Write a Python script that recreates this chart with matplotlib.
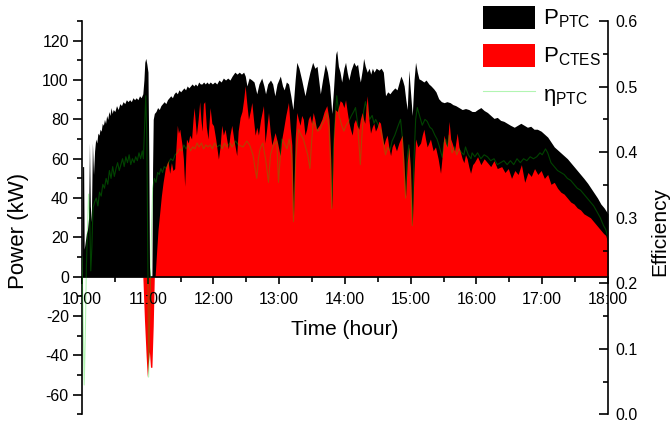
import matplotlib
matplotlib.use('Agg')
import matplotlib.pyplot as plt
from matplotlib.patches import Patch
from matplotlib.lines import Line2D
from matplotlib.ticker import MultipleLocator
import numpy as np

plt.rcParams['font.family'] = ['Liberation Sans', 'DejaVu Sans']
plt.rcParams['mathtext.fontset'] = 'custom'
plt.rcParams['mathtext.rm'] = 'Liberation Sans'
plt.rcParams['mathtext.it'] = 'Liberation Sans:italic'
plt.rcParams['axes.unicode_minus'] = False

# minutes after 10:00 and PTC power (kW)
ptc_min = [0, 0.5, 1.5, 2.0, 3, 4, 5, 6, 6.8, 7.6, 8.5, 9.5, 10.5, 11.5, 12.5, 13.5, 14.5, 15.5,
           16.5, 17.5, 18.5, 19.5, 20.5, 21.5, 22.5, 23.5, 24.5, 25.5, 26.5, 27.5, 28.5, 30, 31.5,
           33, 34.5, 36, 37.5, 39, 40.5, 42, 43.5, 45, 46.5, 48, 49.5, 51, 52.5, 54, 55.5, 56.5,
           57.3, 58.2, 59.2, 60.2, 61.0, 61.6, 62.2, 63.8, 64.4, 65.0, 66, 67.5, 69, 70.5, 72, 73.5,
           75, 76.5, 78, 79.5, 81, 82.5, 84, 85.5, 87, 88.5, 90, 91.5, 93, 94.5, 96, 97.5, 99,
           100.5, 102, 103.5, 105, 106.5, 108, 109.5, 111, 112.5, 114, 115.5, 117, 119, 121, 123,
           125, 127, 129, 131, 133, 135, 137, 139.5, 141.5, 143.5, 145.5, 147.5, 149, 150.5, 152.5,
           155, 157, 159.5, 161.5, 164, 166, 167.5, 169.5, 172, 174, 176, 178, 181, 183, 184.5,
           186.5, 188.5, 190.5, 192.5, 194.5, 196, 198, 200.5, 202, 203.5, 206, 208, 210.5, 212.5,
           214.5, 216, 217.5, 219.5, 222, 224, 226, 228, 229.5, 231.5, 232.5, 234, 235.5, 237, 239,
           240.5, 242, 243.5, 245.5, 248, 250, 251.5, 253, 254, 256, 257, 258.5, 260.3, 262, 263.5,
           265, 266.5, 268.5, 271, 273, 275, 277, 279, 281, 283, 285.5, 287.5, 289.5, 291, 292.5,
           294, 295.5, 296.8, 298.3, 299.5, 301.4, 303, 304.4, 306, 307.5, 309.5, 312, 314, 316.5,
           318.5, 321, 323, 325.5, 328, 330.5, 333, 336, 338.5, 341, 344, 347, 350, 353, 356, 358.5,
           361, 364, 367, 370, 373, 376, 379, 382, 385, 388, 391, 394.5, 397.5, 400.5, 403.5, 406.5,
           409.5, 412.5, 415.5, 419, 422, 425, 428, 431, 434, 437, 440, 443, 446, 449, 452, 455, 458,
           461.5, 464.5, 467.5, 470.5, 473.5, 476.5, 480]
ptc_kw = [0, 56, 56, 14, 18, 22, 24, 30, 68, 36, 28, 68, 52, 64, 70, 68, 73, 72,
          75, 74, 78, 77, 80, 78, 82, 80, 84, 82, 86, 83, 85, 84, 87,
          85, 88, 87, 89, 88, 90, 89, 90, 89, 91, 90, 91, 90, 92, 91, 93, 100,
          109, 111, 108, 104, 60, 5, 0, 0, 55, 80, 83, 84, 86, 85, 87, 88,
          89, 88, 90, 91, 92, 91, 93, 94, 93, 95, 94, 95, 96, 95, 97, 96, 97,
          98, 97, 98, 97, 99, 98, 98, 99, 98, 99, 98, 99, 98, 99, 98,
          100, 99, 101, 100, 101, 100, 102, 104, 103, 104, 103, 104, 102, 97, 101,
          100, 99, 93, 98, 101, 97, 93, 98, 100, 98, 92, 98, 102, 97, 95,
          99, 98, 92, 85, 100, 109, 106, 100, 96, 92, 99, 104, 109, 106,
          107, 100, 93, 100, 108, 104, 97, 83, 95, 113, 115, 107, 104, 99, 106,
          109, 104, 100, 105, 109, 107, 108, 102, 99, 106, 111, 107, 104, 106, 103,
          106, 104, 106, 105, 106, 104, 92, 94, 93, 94.5, 96, 95, 99, 102, 100,
          97, 90, 85, 105, 96, 82, 100, 109, 104, 100.6, 100, 99, 100, 98,
          97, 95.5, 94, 90.5, 89, 88.5, 89, 88.5, 87.5, 87, 86, 85, 85.5, 85, 84, 84,
          85, 86, 84.5, 83.5, 82, 80.5, 81, 79.5, 79, 78, 77, 76, 77, 78, 77, 76,
          76.5, 75, 75, 74, 72.5, 71, 68.5, 66, 64.5, 63, 61.5, 60, 58, 56, 54, 52, 50,
          47.5, 45, 42.5, 40, 37, 35, 32]

# minutes after 10:00 and CTES power (kW)
ctes_min = [0, 55.5, 57, 58.5, 59.6, 60.5, 61.5, 62.5, 63.8, 65, 66, 66.7, 68, 69.4, 71, 72.4,
            74, 76, 78.5, 80, 81.6, 83, 84.6, 86, 87, 88, 89.2, 91.3, 92.5, 93.7, 95.3, 97, 98.3,
            100, 101.3, 102.3, 103.5, 104.4, 106, 107.4, 108.5, 109.6, 110.8, 112, 113.5, 115,
            116.9, 118.5, 120, 122, 124.5, 126, 127.5, 129, 130.6, 132, 133.6, 135, 136.7, 138.5,
            141.2, 142.5, 144.3, 146, 147.5, 148.9, 150.4, 151.9, 153.5, 155, 156.5, 158, 159.5,
            161, 163, 165.6, 167, 168.5, 170.2, 171.7, 173.2, 174.7, 176.2, 178.5, 180.8, 182.3,
            183.9, 186, 188.4, 190, 191.5, 193, 194.5, 196, 197.5, 199, 200.5, 202, 203.5, 205,
            206.5, 208, 209.5, 211, 212.5, 214, 216.5, 218.9, 221, 223.4, 225.5, 227, 228, 229.5,
            231, 233, 235.6, 237.4, 239, 240.5, 242, 243.5, 245, 246.6, 248, 249.6, 251, 252.6,
            254, 255.7, 257, 258.1, 259.2, 260.3, 261.8, 263.3, 264.8, 266.3, 267.8, 269.4, 271,
            272.4, 274, 275.5, 277, 278.5, 280, 281.6, 283, 284.6, 287, 289.2, 290.7, 292.2, 293.7,
            295.3, 296.8, 298.3, 299.8, 301.4, 302.9, 304.4, 306.5, 309, 310.5, 312, 313.5, 315,
            316.5, 318, 320.5, 322.6, 325, 327.2, 328.8, 330.3, 331.8, 333.3, 335, 336.5, 337.8,
            340, 342.4, 344, 345.5, 347, 348.5, 350, 351.5, 353, 354.6, 356.5, 358, 361, 364, 367,
            370, 373, 376, 379, 383, 386, 389, 392, 395, 398, 401, 404, 407, 410, 413, 416, 419,
            422, 425, 428, 431, 434, 437, 440, 443, 446, 449, 452, 455, 458, 461, 464, 467, 470,
            473, 476, 478, 480]
ctes_kw = [0, 0, -22, -40, -51, -44, -38, -46, -46, -25, 0, 0, 12, 24, 33, 41,
           48, 55, 59, 52.6, 58, 54, 55, 68, 77, 73, 75, 67, 60, 46, 70, 68, 72,
           70, 80, 86, 78, 72, 80, 89, 80, 74, 88, 89, 76, 70,
           86, 78, 76.8, 70, 59.8, 66, 77, 72, 75, 70, 65, 72, 77, 70,
           61.6, 74, 81, 84, 90, 97, 88, 80, 84, 88.6, 80, 72, 76,
           72, 80, 87, 68, 75, 83.5, 74, 67, 70, 73.3, 68, 61.6, 70,
           75, 82, 88.6, 76, 67, 31, 70, 83.5, 80, 77, 82, 80, 72, 75,
           80, 82, 78, 83.5, 80, 75, 77, 80, 84, 87, 80, 60, 34.5, 70,
           85, 84, 89.5, 88.6, 86, 90, 84, 78.6, 75, 72, 78, 80, 77, 75,
           80, 83.5, 80, 78, 86, 92, 80, 73, 76, 78, 74, 76, 79,
           78, 72, 67, 70, 72, 66, 61.6, 66, 68, 64, 68, 70, 72, 60,
           41, 58, 66, 55, 26, 52, 70, 66, 68, 72, 75, 70, 66,
           68, 70, 64, 66, 60, 52.6, 62, 72, 68, 66, 79, 70, 68,
           64, 73, 66, 63, 60, 58, 62, 60, 56, 52.6, 57, 58, 61, 57, 60,
           58, 56, 59, 55, 56, 53, 55, 50, 54, 52, 57, 48, 53, 51, 55, 52, 54,
           50, 52, 47, 48, 45, 43, 42, 40, 38, 37, 35, 34, 32, 31, 30, 28, 26,
           24, 22, 21, 17]

# minutes after 10:00 and PTC efficiency
eta_min = [0, 1.0, 2.0, 3.0, 4.0, 5.0, 6.0, 7.0, 8.0, 9.0, 10, 11.5, 13, 14.5, 16, 17.5, 19,
           20.5, 22, 23.5, 25, 26.5, 28, 29.5, 31, 32.5, 34, 35.5, 37, 38.5, 40, 41.5, 43, 44.5,
           46, 47.5, 49, 50.5, 52, 53.5, 55, 56, 57.2, 58.2, 59.2, 60.2, 60.8, 61.6, 62.5, 63.5,
           64.5, 66, 67.5, 69, 70.5, 72, 73.5, 75, 77, 79, 81, 83, 85, 87, 89, 91, 93, 95, 97, 99,
           101, 103, 105, 107, 109, 111, 113, 115, 117, 119, 121, 123, 126, 128, 130, 132, 135,
           137, 140, 143, 147, 150.4, 153, 156, 159.5, 161, 162.5, 165, 167.5, 170.2, 172, 174.7,
           177.8, 179.3, 180.8, 182.4, 184.5, 187, 189, 191.5, 193, 195, 197.6, 200, 202, 204,
           206, 208, 209.5, 211, 213, 215, 217.3, 219.5, 221.5, 223.4, 225.5, 227, 228, 229.5,
           231, 232.5, 234.5, 237, 239, 241, 243.5, 246, 248, 249.6, 251.5, 253, 254, 255.5, 257,
           258.7, 260.5, 262.5, 264.8, 266.5, 268, 270.5, 273, 275, 277, 279, 281, 283, 285.5,
           288, 290.7, 292.5, 293.8, 295.3, 296.8, 298.3, 299.8, 301.4, 303, 304.5, 306, 308,
           310.5, 313, 315, 317.5, 319.6, 322, 324, 325.7, 327.2, 328.8, 330.3, 331.8, 333.5, 335,
           337.8, 340, 342, 344, 346.5, 348.5, 350, 352.5, 355, 356, 358.5, 361, 364, 367, 370,
           373, 376, 379, 382, 385, 388, 391, 394, 397, 400, 403, 406, 409, 412, 415, 418, 420,
           423, 425, 428, 431, 434, 437, 440, 443, 446, 449, 452, 455, 458, 461, 464, 467, 470,
           473, 476, 478, 480]
eta_val = [0.24, 0.15, 0.045, 0.12, 0.225, 0.285, 0.336, 0.30, 0.219, 0.255, 0.315, 0.324, 0.33,
           0.318, 0.339, 0.333, 0.351, 0.345, 0.36, 0.351, 0.372, 0.36, 0.378, 0.363, 0.375, 0.384,
           0.372, 0.381, 0.39, 0.378, 0.393, 0.384, 0.396, 0.381, 0.39, 0.384, 0.393, 0.387, 0.399,
           0.39, 0.402, 0.39, 0.444, 0.486, 0.42, 0.21, 0.057, 0.135, 0.21, 0.285, 0.345, 0.36,
           0.354, 0.369, 0.366, 0.375, 0.369, 0.378, 0.375, 0.384, 0.39, 0.387, 0.396, 0.399,
           0.405, 0.402, 0.411, 0.405, 0.411, 0.402, 0.408, 0.405, 0.414, 0.408, 0.414, 0.405,
           0.411, 0.408, 0.411, 0.405, 0.414, 0.408, 0.411, 0.405, 0.414, 0.408, 0.414, 0.408,
           0.417, 0.411, 0.408, 0.417, 0.411, 0.396, 0.36, 0.39, 0.405, 0.414, 0.39, 0.354, 0.396,
           0.411, 0.417, 0.354, 0.39, 0.42, 0.414, 0.405, 0.42, 0.396, 0.294, 0.39, 0.435, 0.426,
           0.42, 0.408, 0.396, 0.375, 0.414, 0.447, 0.441, 0.432, 0.435, 0.444, 0.45, 0.46,
           0.438, 0.375, 0.314, 0.405, 0.45, 0.486, 0.456, 0.441, 0.432, 0.441, 0.447, 0.456,
           0.462, 0.468, 0.444, 0.405, 0.381, 0.426, 0.462, 0.477, 0.462, 0.45, 0.456, 0.444,
           0.45, 0.441, 0.432, 0.414, 0.396, 0.408, 0.402, 0.417, 0.426, 0.438, 0.45, 0.42, 0.375,
           0.33, 0.39, 0.411, 0.36, 0.288, 0.39, 0.45, 0.468, 0.456, 0.441, 0.45, 0.447, 0.438,
           0.435, 0.426, 0.42, 0.411, 0.402, 0.392, 0.414, 0.42, 0.408, 0.426, 0.399, 0.408,
           0.396, 0.405, 0.399, 0.396, 0.408, 0.396, 0.39, 0.399, 0.393, 0.399, 0.39, 0.396,
           0.393, 0.387, 0.39, 0.381, 0.384, 0.387, 0.381, 0.387, 0.381, 0.39, 0.384, 0.39, 0.387,
           0.393, 0.39, 0.393, 0.399, 0.396, 0.405, 0.399, 0.384, 0.378, 0.372, 0.369, 0.366,
           0.36, 0.357, 0.351, 0.345, 0.342, 0.336, 0.33, 0.324, 0.318, 0.309, 0.30, 0.288, 0.282,
           0.27]

x_ticks = [10, 11, 12, 13, 14, 15, 16, 17, 18]
x_labels = ['10:00', '11:00', '12:00', '13:00', '14:00', '15:00', '16:00', '17:00', '18:00']
eta_ticks = [0.0, 0.1, 0.2, 0.3, 0.4, 0.5, 0.6]
eta_labels = ['0.0', '0.1', '0.2', '0.3', '0.4', '0.5', '0.6']

h_ptc = 10 + np.array(ptc_min) / 60
h_ctes = 10 + np.array(ctes_min) / 60
h_eta = 10 + np.array(eta_min) / 60

fig = plt.figure(figsize=(6.7, 4.26), dpi=100)
ax = fig.add_axes([0.1224, 0.027, 0.785, 0.9237])
ax.fill_between(h_ptc, 0, ptc_kw, color='black', lw=0)
ax.fill_between(h_ctes, 0, ctes_kw, color='red', lw=0)
ax.set_xlim(10, 18)
ax.set_ylim(-70, 130)

ax.spines['top'].set_visible(False)
ax.spines['right'].set_visible(False)
ax.spines['bottom'].set_position(('data', 0))
for s in ('left', 'bottom'):
    ax.spines[s].set_linewidth(1.2)

ax.set_xticks(x_ticks)
ax.set_xticklabels(x_labels)
ax.xaxis.set_minor_locator(MultipleLocator(0.5))
ax.set_yticks(range(-60, 121, 20))
ax.yaxis.set_minor_locator(MultipleLocator(10))
ax.tick_params(axis='x', which='major', direction='out', length=5, width=1.2, labelsize=11.5, pad=6)
ax.tick_params(axis='x', which='minor', direction='out', length=3.5, width=1.2)
ax.tick_params(axis='y', which='major', direction='out', length=6.5, width=1.2, labelsize=11.5, pad=3)
ax.tick_params(axis='y', which='minor', direction='out', length=3.5, width=1.2)

ax.set_ylabel('Power (kW)', fontsize=16)
ax.yaxis.set_label_coords(-0.1, 0.466)
ax.set_xlabel('Time (hour)', fontsize=15)
ax.xaxis.set_label_coords(0.5, 0.24)

ax2 = ax.twinx()
ax2.plot(h_eta, eta_val, color='#00e000', alpha=0.3, lw=0.8)
ax2.set_ylim(0, 0.6)
for s in ('left', 'top', 'bottom'):
    ax2.spines[s].set_visible(False)
ax2.spines['right'].set_linewidth(1.2)
ax2.set_yticks(eta_ticks)
ax2.set_yticklabels(eta_labels)
ax2.yaxis.set_minor_locator(MultipleLocator(0.05))
ax2.tick_params(axis='y', which='major', direction='in', length=6.5, width=1.2, labelsize=11.5, pad=5)
ax2.tick_params(axis='y', which='minor', direction='in', length=3.5, width=1.2)
ax2.set_ylabel('Efficiency', fontsize=15)
ax2.yaxis.set_label_coords(1.08, 0.466)

handles = [Patch(fc='black'), Patch(fc='red'),
           Line2D([], [], color='#00e000', alpha=0.3, lw=0.8)]
labels = [r'$\mathregular{P_{PTC}}$', r'$\mathregular{P_{CTES}}$', r'$\mathregular{η_{PTC}}$']
fig.legend(handles, labels, loc='upper left', bbox_to_anchor=(483 / 670, 1 - 6 / 426),
           frameon=False, borderpad=0, borderaxespad=0, handlelength=2.35, handleheight=1.2,
           handletextpad=0.35, labelspacing=0.6, fontsize=16)

fig.savefig('out.png', dpi=100)
